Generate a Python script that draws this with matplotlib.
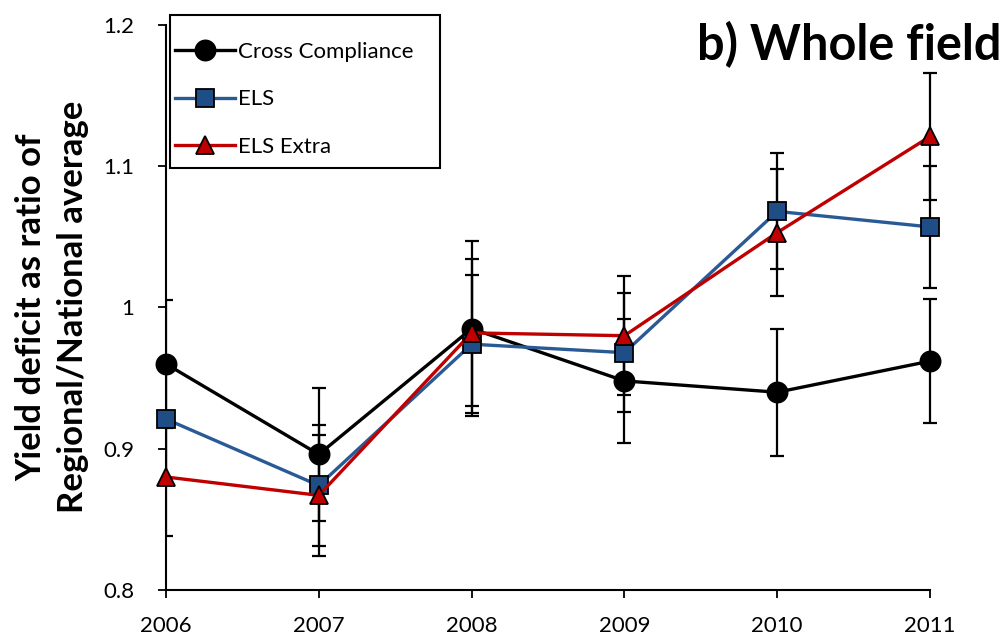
import matplotlib
matplotlib.use("Agg")
import matplotlib.pyplot as plt
from matplotlib.patches import Rectangle
from matplotlib.transforms import Bbox, TransformedBbox

plt.rcParams['font.family'] = ['Lato', 'DejaVu Sans']

years = [2006, 2007, 2008, 2009, 2010, 2011]

# yield deficit ratios and error bar half-widths per scheme
cc_vals = [0.960, 0.896, 0.985, 0.948, 0.940, 0.962]
cc_err = [0.045, 0.047, 0.062, 0.044, 0.045, 0.044]
els_vals = [0.921, 0.874, 0.974, 0.968, 1.068, 1.057]
els_err = [0.042, 0.043, 0.049, 0.042, 0.041, 0.043]
extra_vals = [0.880, 0.867, 0.982, 0.980, 1.053, 1.121]
extra_err = [0.042, 0.043, 0.052, 0.042, 0.045, 0.045]

series = [
    ("Cross Compliance", cc_vals, cc_err, "o", "black", "black"),
    ("ELS", els_vals, els_err, "s", "#2A5A96", "#1F4E86"),
    ("ELS Extra", extra_vals, extra_err, "^", "#C00000", "#C00000"),
]

fig = plt.figure(figsize=(10.06, 6.38), dpi=100)
ax = fig.add_axes([0.165, 0.0752, 0.7595, 0.8858])

# error bars are cut at the y axis but may run past the last year
clip = TransformedBbox(Bbox([[0, -0.05], [1.05, 1.05]]), ax.transAxes)

for label, vals, err, marker, lcol, fcol in series:
    eb = ax.errorbar(years, vals, yerr=err, fmt="none", ecolor="black",
                     elinewidth=1.6, capsize=4.7, capthick=1.6, zorder=2)
    for art in eb.lines[1] + eb.lines[2]:
        art.set_clip_box(clip)
    ax.plot(years, vals, color=lcol, linewidth=2.4, marker=marker,
            markersize=13.5 if marker != "o" else 14.5, markerfacecolor=fcol,
            markeredgecolor="black", markeredgewidth=1.3, label=label,
            zorder=3, clip_on=False)

ax.set_xlim(2006, 2011)
ax.set_ylim(0.8, 1.2)
ax.set_xticks(years)
ax.set_yticks([0.8, 0.9, 1.0, 1.1, 1.2])
ax.set_yticklabels(["0.8", "0.9", "1", "1.1", "1.2"])
ax.tick_params(axis="both", direction="out", length=6, width=1.3,
               labelsize=16)
ax.tick_params(axis="y", pad=17)
ax.tick_params(axis="x", pad=13)

for side in ("top", "right"):
    ax.spines[side].set_visible(False)
for side in ("left", "bottom"):
    ax.spines[side].set_linewidth(1.5)

fig.text(52 / 1006, 0.519, "Yield deficit as ratio of\nRegional/National average",
         rotation=90, ha="center", va="center", multialignment="center",
         fontsize=25, fontweight="bold", linespacing=1.35)

# legend entries without a frame, boxed by a separate rectangle underneath
leg = ax.legend(loc="upper left", bbox_to_anchor=(175 / 1006, 1 - 42 / 638),
                bbox_transform=fig.transFigure, fontsize=16, frameon=False,
                handlelength=2.7, labelspacing=1.23, borderpad=0.0,
                handletextpad=0.15, borderaxespad=0.0)
leg.set_zorder(6)
ax.add_patch(Rectangle((170 / 1006, 1 - 168 / 638), 270 / 1006, 153 / 638,
                       transform=fig.transFigure, facecolor="white",
                       edgecolor="black", linewidth=1.5, zorder=5,
                       clip_on=False))

fig.text(0.996, 0.93, "b) Whole field", ha="right", va="center",
         fontsize=35, fontweight="bold")

fig.savefig("out.png", dpi=100)
